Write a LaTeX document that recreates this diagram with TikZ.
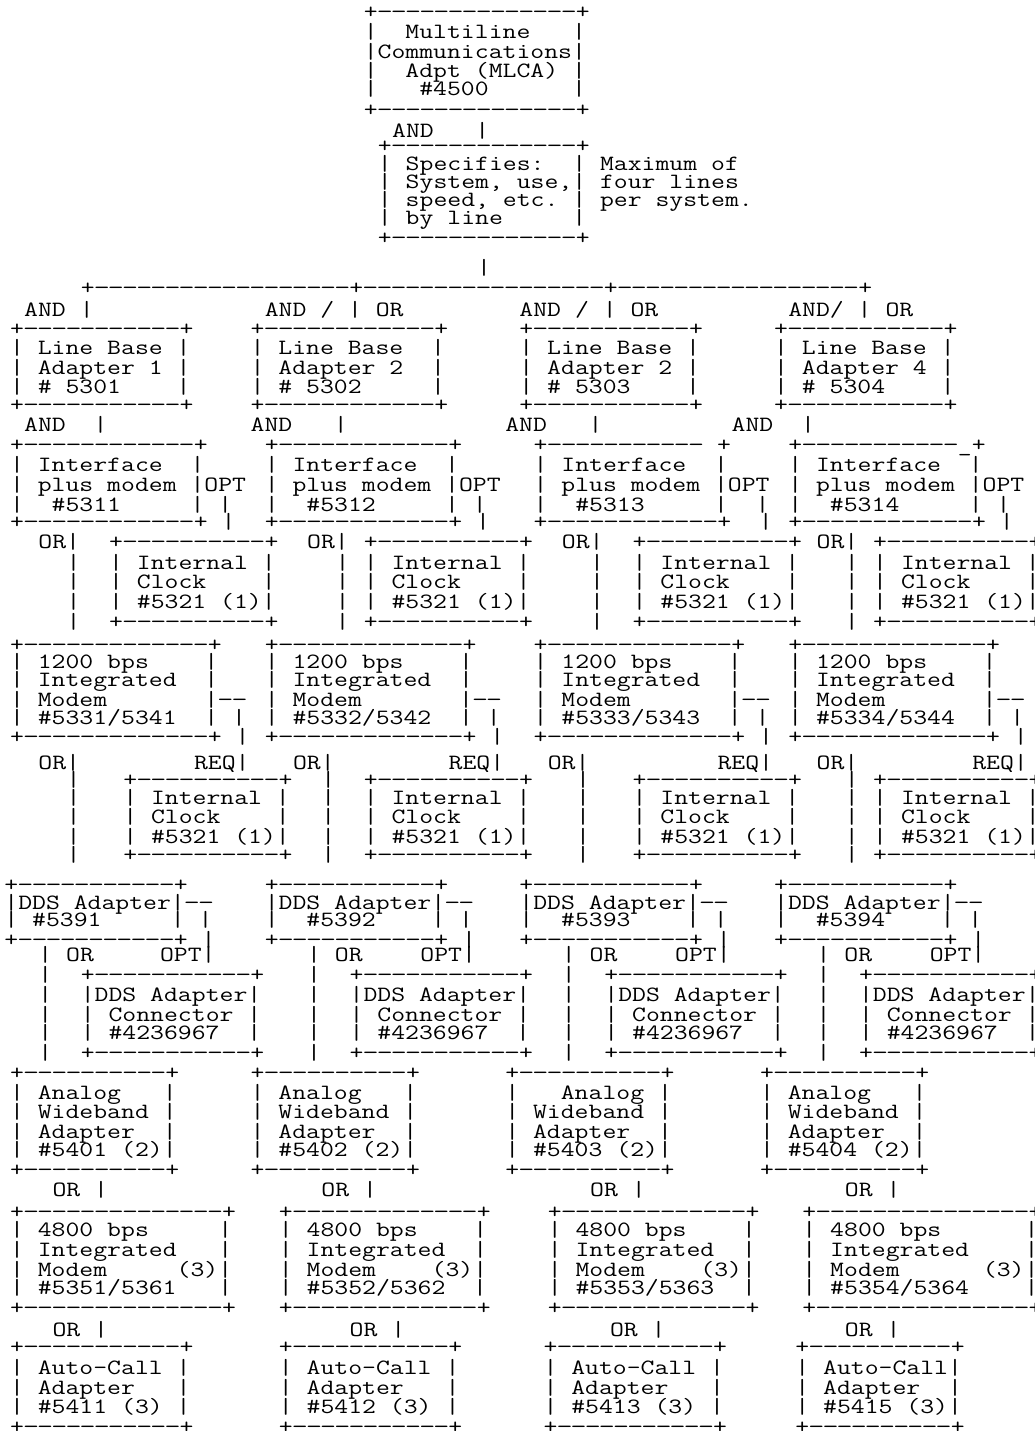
\documentclass[tikz,border=0pt]{standalone}
\usepackage{graphicx}
\newcount\dcnt
\newcommand\hy{\makebox[0.525em][c]{\scalebox{1.15}[1]{\char45}}}
\newcommand\Dx[1]{\dcnt=#1\relax\loop\ifnum\dcnt>0 \hy\advance\dcnt by -1 \repeat}
\newcommand\Bx[1]{+\Dx{#1}+}
\tikzset{tx/.style={anchor=base west,inner sep=0pt,outer sep=0pt,
  font=\ttfamily\fontsize{21.8}{21.8}\selectfont\frenchspacing}}
\newcommand\Tx[3]{\node[tx] at ({14.15*(#1)-4.075},{#2+6}) {\scalebox{1.2364}[1]{\kern0pt #3}};}
\begin{document}
\begin{tikzpicture}[x=1pt,y=-1pt]
\fill[white] (0,0) rectangle (1034,1431);
\path[use as bounding box] (0,0) rectangle (1034,1431);
\clip (0,0) rectangle (1034,1431);
% ---------- top
\Tx{26}{13}{\Bx{14}}
\Tx{26}{33}{|~~Multiline~~~|}
\Tx{26}{53}{|Communications|}
\Tx{26}{72}{|~~Adpt (MLCA)~|}
\Tx{26}{90}{|~~~\#4500~~~~~~|}
\Tx{26}{111}{\Bx{14}}
\Tx{28}{132}{AND~~~|}
\Tx{27}{147}{\Bx{13}}
\Tx{27}{165}{|~Specifies:~~|~Maximum of}
\Tx{27}{183}{|~System, use,|~four lines}
\Tx{27}{201}{|~speed, etc.~|~per system.}
\Tx{27}{219}{|~by line~~~~~|}
\Tx{27}{239}{\Bx{13}}
\Tx{34}{268}{|}
\Tx{6}{288}{+\Dx{18}+\Dx{17}+\Dx{17}+}
% ---------- line base adapters
\Tx{2}{310}{AND~|}
\Tx{19}{310}{AND / | OR}
\Tx{37}{310}{AND / | OR}
\Tx{56}{310}{AND/ | OR}
\foreach \y in {329,405}{\Tx{1}{\y}{\Bx{11}}\Tx{18}{\y}{\Bx{12}}\Tx{37}{\y}{\Bx{11}}\Tx{55}{\y}{\Bx{11}}}
\Tx{1}{348}{| Line Base |}\Tx{18}{348}{| Line Base~~|}\Tx{37}{348}{| Line Base |}\Tx{55}{348}{| Line Base |}
\Tx{1}{368}{| Adapter 1 |}\Tx{18}{368}{| Adapter 2~~|}\Tx{37}{368}{| Adapter 2 |}\Tx{55}{368}{| Adapter 4 |}
\Tx{1}{387}{| \# 5301~~~~|}\Tx{18}{387}{| \# 5302~~~~~|}\Tx{37}{387}{| \# 5303~~~~|}\Tx{55}{387}{| \# 5304~~~~|}
\Tx{2}{425}{AND~~|}\Tx{18}{425}{AND~~~|}\Tx{36}{425}{AND~~~|}\Tx{52}{425}{AND~~|}
% ---------- interface plus modem
\Tx{1}{445}{\Bx{12}}\Tx{19}{445}{\Bx{12}}\Tx{38}{445}{+\Dx{11}~+}\Tx{56}{445}{+\Dx{11}\_+}
\foreach \c in {1,19,38,56}{\Tx{\c}{465}{| Interface~~|}\Tx{\c}{485}{| plus modem |OPT}}
\Tx{1}{505}{|~~\#5311~~~~~|~|}\Tx{19}{505}{|~~\#5312~~~~~|~|}\Tx{38}{505}{|~~\#5313~~~~~|~~|}\Tx{56}{505}{|~~\#5314~~~~~|~|}
\Tx{1}{522}{\Bx{12}~|}\Tx{19}{522}{\Bx{12}~|}\Tx{38}{522}{\Bx{12}~~|}\Tx{56}{522}{\Bx{12}~|}
% ---------- internal clock (1)
\foreach \o/\l/\b in {3/5/8,22/24/26,40/42/45,58/60/62}{
  \Tx{\o}{542}{OR|}\Tx{\b}{542}{\Bx{10}}
  \Tx{\l}{563}{|}\Tx{\b}{563}{| Internal |}
  \Tx{\l}{582}{|}\Tx{\b}{582}{| Clock~~~~|}
  \Tx{\l}{602}{|}\Tx{\b}{602}{| \#5321 (1)|}
  \Tx{\l}{622}{|}\Tx{\b}{622}{\Bx{10}}}
% ---------- 1200 bps
\foreach \c in {1,19,38,56}{
  \Tx{\c}{645}{\Bx{13}}
  \Tx{\c}{662}{| 1200 bps~~~~|}
  \Tx{\c}{680}{| Integrated~~|}
  \Tx{\c}{700}{| Modem~~~~~~~|\Dx{2}}
  \Tx{\c}{737}{\Bx{13}~|}}
\Tx{1}{718}{| \#5331/5341~~|~|}\Tx{19}{718}{| \#5332/5342~~|~|}\Tx{38}{718}{| \#5333/5343~~|~|}\Tx{56}{718}{| \#5334/5344~~|~|}
\Tx{3}{763}{OR|}\Tx{14}{763}{REQ|}\Tx{21}{763}{OR|}\Tx{32}{763}{REQ|}
\Tx{39}{763}{OR|}\Tx{51}{763}{REQ|}\Tx{58}{763}{OR|}\Tx{69}{763}{REQ|}
% ---------- internal clock (2)
\foreach \l/\b in {5/9,23/26,41/45,60/62}{
  \Tx{\l}{780}{|}\Tx{\b}{780}{\Bx{10}}
  \Tx{\l}{798}{|}\Tx{\b}{798}{| Internal |}
  \Tx{\l}{817}{|}\Tx{\b}{817}{| Clock~~~~|}
  \Tx{\l}{837}{|}\Tx{\b}{837}{| \#5321 (1)|}
  \Tx{\l}{855}{|}\Tx{\b}{855}{\Bx{10}}}
% ---------- DDS adapter
\foreach \c in {0.6,19,37,55}{
  \Tx{\c}{885}{\Bx{11}}
  \Tx{\c}{903}{|DDS Adapter|\Dx{2}}
  \Tx{\c}{940}{\Bx{11}~|}}
\Tx{0.6}{920}{| \#5391~~~~~|~|}\Tx{19}{920}{|~~\#5392~~~~|~|}\Tx{37}{920}{|~~\#5393~~~~|~|}\Tx{55}{920}{|~~\#5394~~~~|~|}
% ---------- DDS adapter connector
\Tx{3}{955}{| OR}\Tx{11.6}{955}{OPT|}\Tx{22}{955}{| OR}\Tx{30}{955}{OPT|}
\Tx{40}{955}{| OR}\Tx{48}{955}{OPT|}\Tx{58}{955}{| OR}\Tx{66}{955}{OPT|}
\foreach \l/\b in {3/6,22/25,40/43,58/61}{
  \Tx{\l}{975}{|}\Tx{\b}{975}{\Bx{11}}
  \Tx{\l}{995}{|}\Tx{\b}{995}{|DDS Adapter|}
  \Tx{\l}{1015}{|}\Tx{\b}{1015}{| Connector |}
  \Tx{\l}{1033}{|}\Tx{\b}{1033}{| \#4236967~~|}
  \Tx{\l}{1053}{|}\Tx{\b}{1053}{\Bx{11}}}
% ---------- analog wideband adapter
\foreach \c in {1,18,36,54}{
  \Tx{\c}{1073}{\Bx{10}}
  \Tx{\c}{1112}{| Wideband |}
  \Tx{\c}{1132}{| Adapter~~|}
  \Tx{\c}{1170}{\Bx{10}}}
\Tx{1}{1093}{| Analog~~~|}\Tx{18}{1093}{| Analog~~~|}\Tx{36}{1093}{|~~~Analog~|}\Tx{54}{1093}{| Analog~~~|}
\Tx{1}{1150}{| \#5401 (2)|}\Tx{18}{1150}{| \#5402 (2)|}\Tx{36}{1150}{| \#5403 (2)|}\Tx{54}{1150}{| \#5404 (2)|}
\Tx{4}{1190}{OR~|}\Tx{23}{1190}{OR~|}\Tx{42}{1190}{OR~|}\Tx{60}{1190}{OR~|}
% ---------- 4800 bps
\Tx{1}{1212}{\Bx{14}}\Tx{1}{1230}{| 4800 bps~~~~~|}\Tx{1}{1250}{| Integrated~~~|}
\Tx{1}{1270}{| Modem~~~~~(3)|}\Tx{1}{1288}{| \#5351/5361~~~|}\Tx{1}{1308}{\Bx{14}}
\foreach \c in {20,39}{
  \Tx{\c}{1212}{\Bx{13}}\Tx{\c}{1230}{| 4800 bps~~~~|}\Tx{\c}{1250}{| Integrated~~|}
  \Tx{\c}{1270}{| Modem~~~~(3)|}\Tx{\c}{1308}{\Bx{13}}}
\Tx{20}{1288}{| \#5352/5362~~|}\Tx{39}{1288}{| \#5353/5363~~|}
\Tx{57}{1212}{\Bx{15}}\Tx{57}{1230}{| 4800 bps~~~~~~|}\Tx{57}{1250}{| Integrated~~~~|}
\Tx{57}{1270}{| Modem~~~~~~(3)|}\Tx{57}{1288}{| \#5354/5364~~~~|}\Tx{57}{1308}{\Bx{15}}
\Tx{4}{1330}{OR~|}\Tx{25}{1330}{OR~|}\Tx{43.4}{1330}{OR~|}\Tx{60}{1330}{OR~|}
% ---------- auto-call adapter
\foreach \c/\n in {1/5411,20/5412,38.7/5413}{
  \Tx{\c}{1347}{\Bx{11}}\Tx{\c}{1368}{| Auto-Call |}\Tx{\c}{1388}{| Adapter~~~|}
  \Tx{\c}{1407}{| \#\n{} (3) |}\Tx{\c}{1427}{\Bx{11}}}
\Tx{56.5}{1347}{\Bx{10}}\Tx{56.5}{1368}{| Auto-Call|}\Tx{56.5}{1388}{| Adapter~~|}
\Tx{56.5}{1407}{| \#5415 (3)|}\Tx{56.5}{1427}{\Bx{10}}
\end{tikzpicture}
\end{document}
